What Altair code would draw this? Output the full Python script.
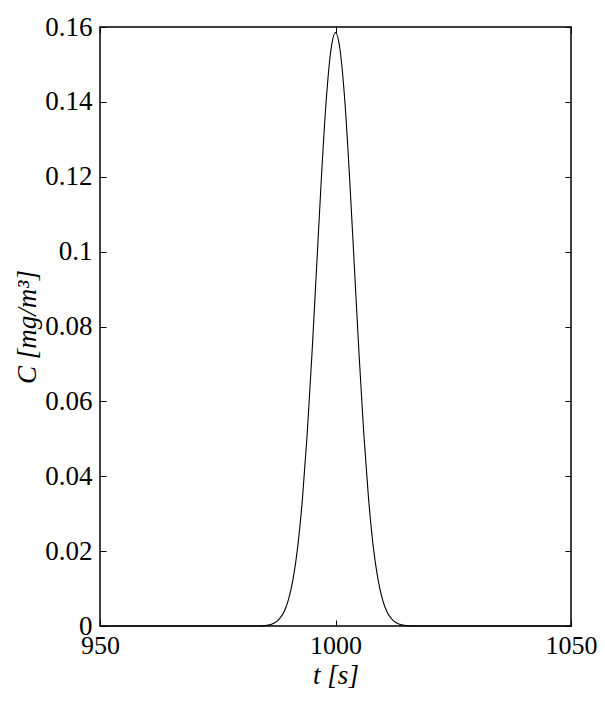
import altair as alt
import pandas as pd

# time (s) and concentration (mg/m^3)
t_vals = [950, 984, 985, 986, 987, 988, 989, 990, 991, 992, 993, 994, 995, 996, 997, 998, 999,
          1000, 1001, 1002, 1003, 1004, 1005, 1006, 1007, 1008, 1009, 1010, 1011, 1012, 1013,
          1014, 1015, 1016, 1050]
c_vals = [0.0, 0.0, 0.0001, 0.0003, 0.0008, 0.0018, 0.0036, 0.0070, 0.0126, 0.0214, 0.0343,
          0.0515, 0.0726, 0.0961, 0.1196, 0.1399, 0.1536,
          0.1585, 0.1536, 0.1399, 0.1196, 0.0961, 0.0726, 0.0515, 0.0343, 0.0214, 0.0126,
          0.0070, 0.0036, 0.0018, 0.0008, 0.0003, 0.0001, 0.0, 0.0]

x_ticks = [950, 1000, 1050]
y_ticks = [0, 0.02, 0.04, 0.06, 0.08, 0.1, 0.12, 0.14, 0.16]

df = pd.DataFrame({"t": t_vals, "C": c_vals})

FONT = "Liberation Serif"
FS = 27

xscale = alt.Scale(domain=[950, 1050], nice=False, zero=False)
yscale = alt.Scale(domain=[0, 0.16], nice=False)

common_axis = dict(grid=False, domain=False, tickSize=6, offset=-6, tickColor="black",
                   tickWidth=1, labelFont=FONT, labelColor="black",
                   titleFont=FONT, titleFontSize=FS, titleColor="black",
                   titleFontWeight="normal")

main = alt.Chart(df).mark_line(color="black", strokeWidth=1.1, interpolate="monotone").encode(
    x=alt.X("t:Q", scale=xscale,
            axis=alt.Axis(orient="bottom", values=x_ticks, format="d", labelPadding=6,
                          labelFlush=False, labelFontSize=26,
                          title="t [s]", titleFontStyle="italic", titlePadding=4,
                          **common_axis)),
    y=alt.Y("C:Q", scale=yscale,
            axis=alt.Axis(orient="left", values=y_ticks, format="~g", labelPadding=8,
                          labelBaseline="middle", labelFlush=False, labelFontSize=FS,
                          title="C [mg/m³]", titleFontStyle="italic", titlePadding=3,
                          **common_axis)),
)

mirror = alt.Chart(df).mark_line(opacity=0).encode(
    x=alt.X("t:Q", scale=xscale,
            axis=alt.Axis(orient="top", values=x_ticks, labels=False, title=None,
                          **common_axis)),
    y=alt.Y("C:Q", scale=yscale,
            axis=alt.Axis(orient="right", values=y_ticks, labels=False, title=None,
                          **common_axis)),
)

chart = alt.layer(main, mirror).resolve_axis(x="independent", y="independent").properties(
    width=471, height=599,
    autosize=alt.AutoSizeParams(type="none"),
    padding={"left": 92, "top": 19, "right": 26, "bottom": 64},
).configure(background="white").configure_view(stroke="black", strokeWidth=1.5)

chart.save("out.html", embed_options={"renderer": "svg", "actions": False})
